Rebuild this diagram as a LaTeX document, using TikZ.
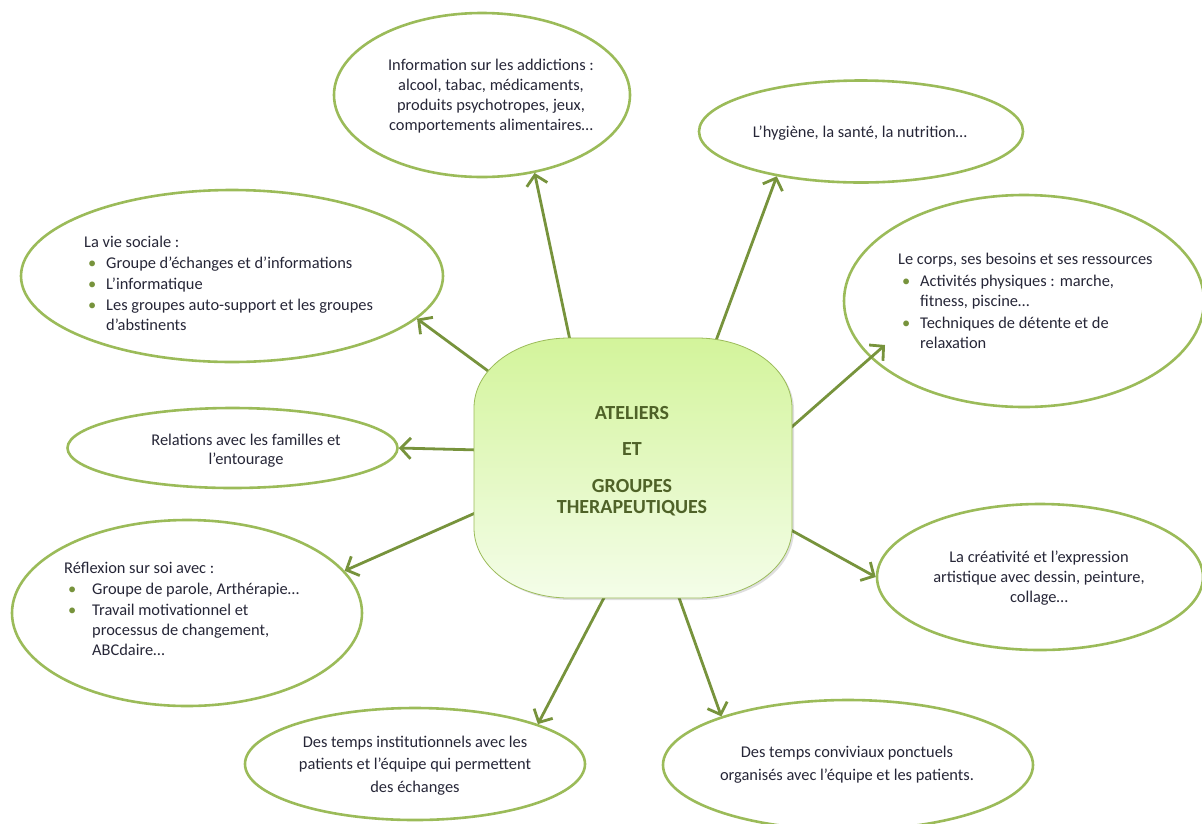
\documentclass[tikz,border=0pt]{standalone}
\usepackage{fontspec}
\setmainfont{Carlito}
\usetikzlibrary{arrows.meta,shapes.geometric}
\definecolor{bord}{HTML}{9BBB59}
\definecolor{arr}{HTML}{77933C}
\definecolor{txt}{HTML}{262637}
\definecolor{ctr}{HTML}{4F6228}
\definecolor{gtop}{HTML}{D3F49B}
\definecolor{gbot}{HTML}{F4FDE9}
\newcommand\bitem[2]{\par\hangindent=#1\hangafter=1\noindent\makebox[#1][l]{\hspace{4pt}\textcolor{arr}{\textbullet}}#2}
\begin{document}
\begin{tikzpicture}[x=1pt,y=-1pt,
 bub/.style={ellipse, draw=bord, line width=2.6pt, inner sep=0pt},
 lbl/.style={inner sep=0pt, text=txt, font=\fontsize{16.4}{20}\selectfont, anchor=base},
 lblw/.style={lbl, anchor=base west},
 arrow/.style={draw=arr, line width=2.8pt, -{Straight Barb[length=10pt,width=21pt]}}]
\useasboundingbox (0,0) rectangle (1202,823);

% ellipses
\node[bub, minimum width=296pt, minimum height=164pt] (e1) at (482,95) {};
\node[bub, minimum width=324pt, minimum height=102pt] (e2) at (861,131.5) {};
\node[bub, minimum width=422pt, minimum height=172pt] (e3) at (232,276) {};
\node[bub, minimum width=360pt, minimum height=212pt] (e4) at (1024,301) {};
\node[bub, minimum width=330pt, minimum height=80pt] (e5) at (232.5,448) {};
\node[bub, minimum width=350pt, minimum height=186pt] (e6) at (187,613) {};
\node[bub, minimum width=326pt, minimum height=146pt] (e7) at (1040,577) {};
\node[bub, minimum width=340pt, minimum height=112pt] (e8) at (415,764) {};
\node[bub, minimum width=370pt, minimum height=130pt] (e9) at (848,765) {};

% arrow start points on the central shape
\coordinate (s1) at (571,345);
\coordinate (s2) at (714,346);
\coordinate (s3) at (503,382);
\coordinate (s4) at (786,432);
\coordinate (s5) at (480,450);
\coordinate (s6) at (482,510);
\coordinate (s7) at (780,524);
\coordinate (s8) at (607,592);
\coordinate (s9) at (677,592);
\coordinate (a4) at (885,345);

\draw[arrow] (s1) -- (e1.-56.8);
\draw[arrow] (s2) -- (e2.208);
\draw[arrow] (s3) -- (e3.-13.5);
\draw[arrow] (s4) -- (a4);
\draw[arrow] (s5) -- (e5.east);
\draw[arrow] (s6) -- (e6.15.5);
\draw[arrow] (s7) -- (e7.west);
\draw[arrow] (s8) -- (e8.18);
\draw[arrow] (s9) -- (e9.159.5);

% central rounded shape
\fill[black, opacity=0.13] (571,340) -- (699,340) .. controls (751.5,340) and (794,371) .. (794,410) -- (794,530) .. controls (794,569) and (751.5,600) .. (699,600) -- (571,600) .. controls (518.5,600) and (476,569) .. (476,530) -- (476,410) .. controls (476,371) and (518.5,340) .. (571,340) -- cycle;
\shade[top color=gtop, bottom color=gbot, draw=bord, line width=0.8pt] (569,338) -- (697,338) .. controls (749.5,338) and (792,369) .. (792,408) -- (792,528) .. controls (792,567) and (749.5,598) .. (697,598) -- (569,598) .. controls (516.5,598) and (474,567) .. (474,528) -- (474,408) .. controls (474,369) and (516.5,338) .. (569,338) -- cycle;

\node[inner sep=0pt, anchor=base, text=ctr, font=\fontsize{20}{21}\selectfont\bfseries] (c) at (632,419)
 {\parbox[t]{250pt}{\centering ATELIERS\\[15pt] ET\\[16pt] GROUPES\\ THERAPEUTIQUES}};

% texts
\node[lbl] (t1) at (491,70) {\parbox[t]{270pt}{\centering Information sur les addictions :\\ alcool, tabac, médicaments,\\ produits psychotropes, jeux,\\ comportements alimentaires…}};
\node[lbl] (t2) at (860,137) {L’hygiène, la santé, la nutrition…};
\node[lblw] (t3) at (84,247) {\parbox[t]{310pt}{\parskip=1pt La vie sociale :\bitem{22pt}{Groupe d’échanges et d’informations}\bitem{22pt}{L’informatique}\bitem{22pt}{Les groupes auto-support et les groupes\\ d’abstinents}}};
\node[lblw] (t4) at (898,264) {\parbox[t]{270pt}{\parskip=2pt Le corps, ses besoins et ses ressources\bitem{22pt}{Activités physiques : marche,\\ fitness, piscine…}\bitem{22pt}{Techniques de détente et de\\ relaxation}}};
\node[lbl] (t5) at (246,445) {\parbox[t]{260pt}{\centering\baselineskip=19pt Relations avec les familles et\\ l’entourage}};
\node[lblw] (t6) at (64,573) {\parbox[t]{260pt}{\parskip=1pt Réflexion sur soi avec :\bitem{28pt}{Groupe de parole, Arthérapie…}\bitem{28pt}{Travail motivationnel et\\ processus de changement,\\ ABCdaire…}}};
\node[lbl] (t7) at (1039,562) {\parbox[t]{260pt}{\centering La créativité et l’expression\\ artistique avec dessin, peinture,\\ collage…}};
\node[lbl] (t8) at (415,747) {\parbox[t]{290pt}{\centering\baselineskip=22.5pt Des temps institutionnels avec les\\ patients et l’équipe qui permettent\\ des échanges}};
\node[lbl] (t9) at (847,757) {\parbox[t]{300pt}{\centering\baselineskip=23pt Des temps conviviaux ponctuels\\ organisés avec l’équipe et les patients.}};
\end{tikzpicture}
\end{document}
